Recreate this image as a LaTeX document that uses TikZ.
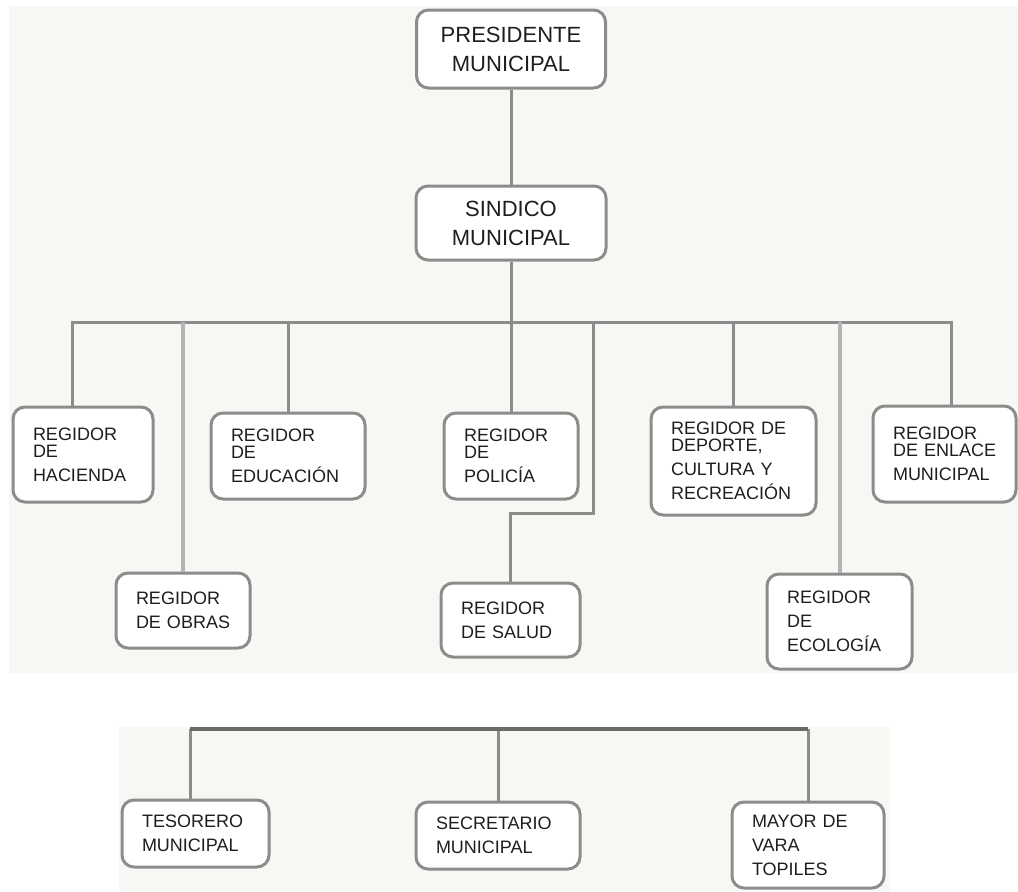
\documentclass[tikz,border=0pt]{standalone}
\usepackage{fontspec}
\setmainfont{Liberation Sans}
\usetikzlibrary{positioning}
\definecolor{linegray}{HTML}{8C8C8C}
\definecolor{palegray}{HTML}{B4B4B4}
\definecolor{busgray}{HTML}{6A6A6A}
\definecolor{bgtint}{HTML}{F7F7F4}
\definecolor{inkgray}{HTML}{1E1E1E}
\hyphenpenalty=10000
\exhyphenpenalty=10000

\begin{document}
\begin{tikzpicture}[x=0.5pt, y=-0.5pt, font=\fontsize{9}{12}\selectfont,
  conn/.style={draw=linegray, line width=1.5pt},
  unit/.style={draw=linegray, line width=1.5pt, rounded corners=6pt, fill=white,
    align=left, inner xsep=10pt, inner ysep=2pt, text=inkgray},
  head/.style={unit, align=center, font=\fontsize{11}{14.5}\selectfont}]
  \useasboundingbox (0,0) rectangle (1018,891);
  % light backdrop of the two sheets
  \fill[bgtint] (9,6) rectangle (1018,673);
  \fill[bgtint] (119,727) rectangle (890,891);

  \node[head, minimum width=94.5pt, minimum height=39pt] (president) at (511,49) {PRESIDENTE\\MUNICIPAL};
  \node[head, minimum width=95pt, minimum height=37pt, below=47.5pt of president] (sindico) {SINDICO\\MUNICIPAL};

  % regidores
  \node[unit, minimum width=70pt, text width=50pt, minimum height=47.5pt] (hacienda) at (83,454.5) {REGIDOR\\[-3.5pt]DE\\HACIENDA};
  \node[unit, minimum width=67pt, text width=47pt, minimum height=37.5pt] (obras) at (183,610.5) {REGIDOR\\\mbox{DE OBRAS}};
  \node[unit, minimum width=77pt, text width=57pt, minimum height=43pt] (educacion) at (288,456) {REGIDOR\\[-3.5pt]DE\\EDUCACIÓN};
  \node[unit, minimum width=67pt, text width=47pt, minimum height=43pt] (policia) at (511,456) {REGIDOR\\[-3.5pt]DE\\POLICÍA};
  \node[unit, minimum width=69.5pt, text width=49.5pt, minimum height=37pt] (salud) at (510.5,620) {REGIDOR\\\mbox{DE SALUD}};
  \node[unit, minimum width=82.5pt, text width=62.5pt, minimum height=54pt] (deporte) at (733.5,461) {\mbox{REGIDOR DE}\\[-3.5pt]DEPORTE,\\\mbox{CULTURA Y}\\RECREACIÓN};
  \node[unit, minimum width=72.5pt, text width=52.5pt, minimum height=47.5pt] (ecologia) at (839.5,621.5) {REGIDOR\\DE\\ECOLOGÍA};
  \node[unit, minimum width=71.5pt, text width=51.5pt, minimum height=48pt] (enlace) at (944.5,454) {REGIDOR\\[-3.5pt]\mbox{DE ENLACE}\\MUNICIPAL};

  % administracion
  \node[unit, minimum width=73.5pt, text width=53.5pt, minimum height=33.5pt] (tesorero) at (195.5,833.5) {TESORERO\\MUNICIPAL};
  \node[unit, minimum width=82pt, text width=62pt, minimum height=33.5pt] (secretario) at (498,835.5) {SECRETARIO\\MUNICIPAL};
  \node[unit, minimum width=76pt, text width=56pt, minimum height=43pt] (mayor) at (808,845) {\mbox{MAYOR DE}\\VARA\\TOPILES};

  \coordinate (bus) at (511,322);
  \coordinate (jog) at (593,513);
  \coordinate (lowbus) at (499,729);

  \draw[conn] (president) -- (sindico);
  \draw[conn] (sindico) -- (policia);
  \draw[conn] ([xshift=-5.5pt]hacienda.north) |- (bus) -| ([xshift=3.25pt]enlace.north);
  \foreach \n in {educacion, deporte}
    \draw[conn] (\n.north) -- (\n.north |- bus);
  \foreach \n in {obras, ecologia}
    \draw[conn, draw=palegray, line width=2pt] (\n.north) -- (\n.north |- bus);
  \draw[conn] (salud.north) |- (jog) -- (jog |- bus);

  \draw[conn] ([xshift=-2.75pt]tesorero.north) -- ([xshift=-2.75pt]tesorero.north |- lowbus);
  \foreach \n in {secretario, mayor}
    \draw[conn] (\n.north) -- (\n.north |- lowbus);
  \draw[conn, draw=busgray, line width=2pt] ([xshift=-2.75pt]tesorero.north |- lowbus) -- (mayor.north |- lowbus);
\end{tikzpicture}
\end{document}
